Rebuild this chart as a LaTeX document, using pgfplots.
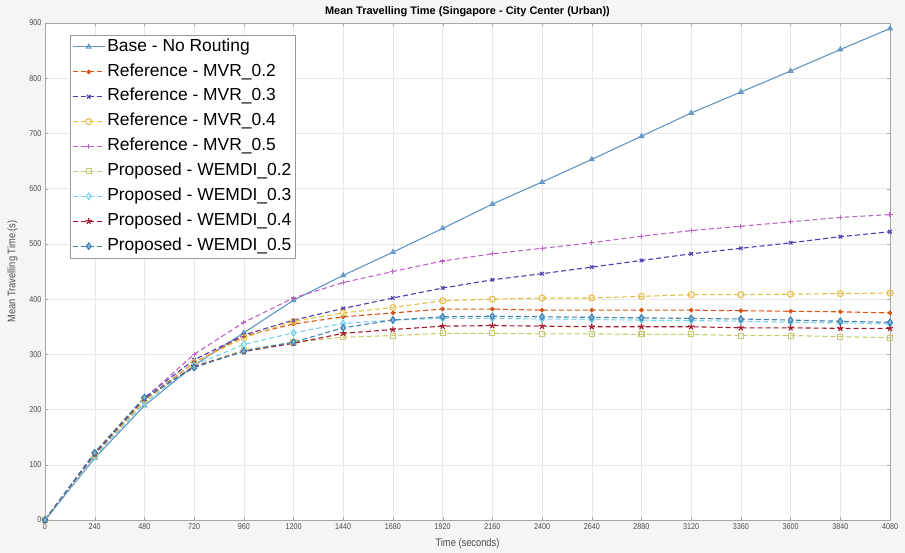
\documentclass[border=0pt]{standalone}
\usepackage{fontspec}
\setmainfont{Liberation Sans}
\newfontfamily\narrowfont[FakeStretch=0.85]{Liberation Sans}
\usepackage{pgfplots}
\usepackage{pgfplotstable}
\pgfplotsset{compat=1.18}
\usetikzlibrary{plotmarks}

\definecolor{cbase}{RGB}{95,150,200}
\definecolor{cmvra}{RGB}{217,83,25}
\definecolor{cmvrb}{RGB}{80,60,170}
\definecolor{cmvrc}{RGB}{230,190,70}
\definecolor{cmvrd}{RGB}{190,100,200}
\definecolor{cwa}{RGB}{200,200,110}
\definecolor{cwb}{RGB}{120,210,235}
\definecolor{cwc}{RGB}{165,25,45}
\definecolor{cwd}{RGB}{60,130,180}
\definecolor{bgc}{RGB}{245,245,243}

\pgfplotstableread{
t    base mvra mvrb mvrc mvrd wa  wb  wc  wd
0    0    0    0    0    0    0   0   0   0
240  112  118  122  115  120  118 115 120 122
480  207  218  222  215  220  218 212 220 222
720  280  285  290  285  300  278 280 278 276
960  339  333  335  330  358  308 318 305 306
1200 398  355  362  360  402  322 339 320 322
1440 443  368  383  375  430  331 356 338 348
1680 485  375  402  385  450  334 362 345 362
1920 528  382  420  397  469  338 365 351 368
2160 572  382  435  400  482  338 365 352 369
2400 612  380  446  402  492  337 364 351 368
2640 653  380  458  402  502  337 363 350 367
2880 695  380  470  405  514  336 362 350 366
3120 737  380  482  408  524  336 361 350 365
3360 775  379  492  408  532  334 360 348 364
3600 813  378  502  409  540  334 358 348 362
3840 852  377  513  410  548  332 357 347 360
4080 890  375  522  411  553  330 355 347 358
}\datatable

\begin{document}
\begin{tikzpicture}
\fill[bgc] (-45bp,-33bp) rectangle (860bp,520bp);
\begin{axis}[
  at={(0,0)}, anchor=south west,
  scale only axis,
  width=845bp, height=497bp,
  axis background/.style={fill=white},
  xmin=0, xmax=4080, ymin=0, ymax=900,
  xtick={0,240,...,4080},
  ytick={0,100,...,900},
  tick align=inside,
  major tick length=3bp,
  grid=major,
  major grid style={gray!18, line width=0.4pt},
  axis line style={gray!70},
  tick style={gray!70},
  every tick label/.append style={font=\narrowfont\fontsize{8.5}{9}\selectfont, text=black!70},
  /pgf/number format/assume math mode=true,
  /pgf/number format/set thousands separator={},
  xlabel={Time (seconds)},
  ylabel={Mean Travelling Time (s)},
  xlabel style={font=\narrowfont\fontsize{11}{12}\selectfont, text=black!70, yshift=-2bp},
  ylabel style={font=\narrowfont\fontsize{11}{12}\selectfont, text=black!70, yshift=5bp},
  title={\textbf{Mean Travelling Time (Singapore - City Center (Urban))}},
  title style={font=\fontsize{11}{12}\selectfont, yshift=-3bp},
  legend style={at={(25bp,485bp)}, anchor=north west, font=\fontsize{17.5}{18}\selectfont,
    draw=gray!80, fill=white, row sep=5.4bp, inner sep=2bp,
    nodes={text height=12bp, text depth=3.5bp, inner sep=2bp}},
  legend cell align=left,
  legend image code/.code={\draw[mark repeat=2,mark phase=2,#1] plot coordinates {(0bp,0bp) (16bp,0bp) (32bp,0bp)};},
  every axis plot/.append style={line width=1.1pt, mark size=2.5bp},
]
\addplot[cbase, solid, mark=triangle, mark options={solid, fill=cbase!25}] table[x=t,y=base] {\datatable};
\addplot[cmvra, dash pattern=on 5bp off 3bp, mark=*, mark size=1.7bp, mark options={solid}] table[x=t,y=mvra] {\datatable};
\addplot[cmvrb, dash pattern=on 5bp off 3bp, mark=x, mark options={solid}] table[x=t,y=mvrb] {\datatable};
\addplot[cmvrc, dash pattern=on 5bp off 3bp, mark=o, mark size=3bp, mark options={solid}] table[x=t,y=mvrc] {\datatable};
\addplot[cmvrd, dash pattern=on 5bp off 3bp, mark=+, mark options={solid}] table[x=t,y=mvrd] {\datatable};
\addplot[cwa, dash pattern=on 5bp off 3bp, mark=square, mark options={solid}] table[x=t,y=wa] {\datatable};
\addplot[cwb, dash pattern=on 5bp off 3bp, mark=diamond, mark size=3.2bp, mark options={solid}] table[x=t,y=wb] {\datatable};
\addplot[cwc, dash pattern=on 5bp off 3bp, mark=star, mark size=3.2bp, mark options={solid}] table[x=t,y=wc] {\datatable};
\addplot[cwd, dash pattern=on 5bp off 3bp, mark=diamond*, mark size=3.2bp, mark options={solid, fill=cwd!60}] table[x=t,y=wd] {\datatable};
\legend{Base - No Routing, Reference - MVR\_0.2, Reference - MVR\_0.3, Reference - MVR\_0.4, Reference - MVR\_0.5, Proposed - WEMDI\_0.2, Proposed - WEMDI\_0.3, Proposed - WEMDI\_0.4, Proposed - WEMDI\_0.5}
\end{axis}
\pgfresetboundingbox
\path (-45bp,-33bp) rectangle (860bp,520bp);
\end{tikzpicture}
\end{document}
